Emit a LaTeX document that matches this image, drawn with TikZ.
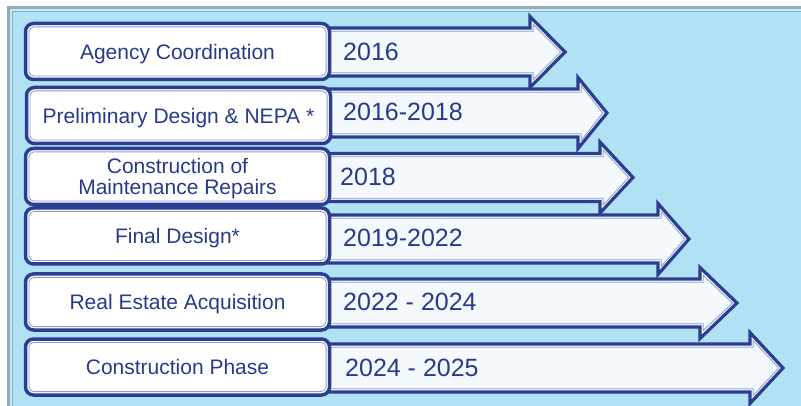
\documentclass[tikz,border=0pt]{standalone}
\usepackage{fontspec}
\setmainfont{Liberation Sans}

\definecolor{panelblue}{HTML}{B1E1F4}
\definecolor{panelrim}{HTML}{8BAFBA}
\definecolor{panelrimlight}{HTML}{C9E6EE}
\definecolor{navy}{HTML}{2B3E91}
\definecolor{inkblue}{HTML}{283A8C}
\definecolor{rimlight}{HTML}{8D9ACB}
\definecolor{arrowfill}{HTML}{F4F9FE}

% timeline arrow: #1 axis y, #2 x where the head starts, #3 tip x
\newcommand{\timearrow}[3]{%
  \draw[arrowbody]
    (320,{#1-24}) -- (#2,{#1-24}) -- (#2,{#1-35.5}) -- (#3,#1)
    -- (#2,{#1+35.5}) -- (#2,{#1+24}) -- (320,{#1+24}) -- cycle;
  \draw[arrowrim]
    (320,{#1-20.8}) -- ({#2+3.2},{#1-20.8}) -- ({#2+3.2},{#1-27.5})
    -- ({#3-4.4},#1) -- ({#2+3.2},{#1+27.5}) -- ({#2+3.2},{#1+20.8})
    -- (320,{#1+20.8});
}

\begin{document}
\begin{tikzpicture}[x=1pt,y=-1pt,
  arrowbody/.style={draw=navy,line width=3.2pt,fill=arrowfill,line join=miter},
  arrowrim/.style={draw=rimlight,line width=0.8pt,line join=miter},
  phasebox/.style={draw=navy,line width=3.5pt,fill=white,rounded corners=8pt,
    minimum width=304pt,minimum height=56pt,inner sep=0pt,text depth=0pt,
    text=inkblue,align=center,font=\fontsize{21}{21.5}\selectfont,
    path picture={\draw[rimlight,line width=0.8pt,rounded corners=5pt]
      ([shift={(3.4pt,-3.4pt)}]path picture bounding box.north west)
      rectangle ([shift={(-3.4pt,3.4pt)}]path picture bounding box.south east);}},
  yearlabel/.style={anchor=west,inner sep=0pt,text=inkblue,
    font=\fontsize{25}{25}\selectfont}]

% page and panel
\useasboundingbox (0,0) rectangle (801,406);
\fill[white] (0,0) rectangle (801,406);
\fill[panelblue] (7,6) rectangle (801,406);
\fill[panelrimlight] (7,6) rectangle (801,12);
\fill[panelrimlight] (7,6) rectangle (13,406);
\draw[panelrim,line width=3pt] (8.5,406) -- (8.5,7.5) -- (801,7.5);
\draw[panelrim,line width=0.8pt] (12,406) -- (12,11.5) -- (801,11.5);

% arrows
\timearrow{52}{530}{565}
\timearrow{113}{578}{607}
\timearrow{177.5}{600}{633}
\timearrow{239}{658}{689}
\timearrow{303}{700}{737}
\timearrow{368}{750}{783}

% phase boxes
\node[phasebox] (p1) at (177.5,51.5) {Agency Coordination};
\node[phasebox] (p2) at (178.5,115.5) {Preliminary Design \& NEPA *};
\node[phasebox] (p3) at (177.5,176.5) {Construction of\\Maintenance Repairs};
\node[phasebox] (p4) at (177.5,236) {Final Design*};
\node[phasebox] (p5) at (177.5,302) {Real Estate Acquisition};
\node[phasebox] (p6) at (177.5,367) {Construction Phase};

% years
\node[yearlabel] (y1) at (343,52) {2016};
\node[yearlabel] (y2) at (343,112) {2016-2018};
\node[yearlabel] (y3) at (340,177) {2018};
\node[yearlabel] (y4) at (343,238) {2019-2022};
\node[yearlabel] (y5) at (343,302) {2022 - 2024};
\node[yearlabel] (y6) at (345,368) {2024 - 2025};
\end{tikzpicture}
\end{document}
